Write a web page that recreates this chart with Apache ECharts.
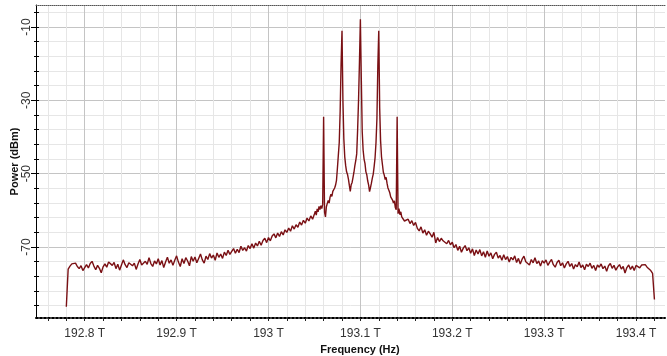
<!DOCTYPE html>
<html>
<head>
<meta charset="utf-8">
<script src="https://cdn.jsdelivr.net/npm/echarts@6/dist/echarts.min.js"></script>
<style>
  html, body { margin: 0; padding: 0; background: #fff; }
  #chart { width: 667px; height: 356px; }
</style>
</head>
<body>
<div id="chart"></div>
<script>
// Optical spectrum of five comb lines around 193.1 THz (frequency in THz, power in dBm).

const freqMin = 192.747;
const freqMax = 193.4315;
const powerMin = -89.35;
const powerMax = -4;

const freqLabelTicks = [192.8, 192.9, 193, 193.1, 193.2, 193.3, 193.4];
const freqMinorTicks = [192.76, 192.78, 192.8, 192.82, 192.84, 192.86, 192.88, 192.9, 192.92, 192.94,
  192.96, 192.98, 193, 193.02, 193.04, 193.06, 193.08, 193.1, 193.12, 193.14, 193.16, 193.18,
  193.2, 193.22, 193.24, 193.26, 193.28, 193.3, 193.32, 193.34, 193.36, 193.38, 193.4, 193.42];
const powerLabelTicks = [-10, -30, -50, -70];
const powerMinorTicks = [-6, -10, -14, -18, -22, -26, -30, -34, -38, -42, -46, -50, -54, -58,
  -62, -66, -70, -74, -78, -82, -86];

// left wing: 192.780 .. 193.048 THz, 2 GHz apart
const leftStart = 192.78;
const wingStep = 0.002;
const leftWingDbm = [
  -86.3, -76.0, -75.2, -74.6, -75.0, -74.4, -75.3, -75.9, -75.1, -76.4,
  -75.6, -74.8, -75.7, -74.5, -73.9, -75.2, -76.2, -75.0, -75.8, -77.0,
  -75.4, -74.6, -75.5, -74.1, -73.6, -75.0, -74.2, -75.9, -74.7, -76.3,
  -74.9, -73.5, -74.8, -75.6, -74.3, -73.8, -75.1, -74.4, -76.1, -74.6,
  -73.4, -74.9, -75.4, -73.9, -74.7, -72.9, -74.5, -75.3, -73.8, -74.6,
  -73.2, -74.9, -73.7, -75.6, -74.1, -72.8, -74.4, -73.5, -75.0, -73.6,
  -72.4, -74.1, -75.3, -73.2, -74.5, -72.9, -73.8, -75.1, -72.6, -73.9,
  -72.7, -74.3, -73.1, -71.9, -73.5, -74.4, -72.5, -73.4, -71.8, -73.0,
  -72.2, -73.6, -71.6, -72.8, -71.9, -73.1, -71.4, -72.3, -70.9, -72.0,
  -71.2, -70.4, -71.7, -70.6, -71.5, -69.8, -70.9, -70.2, -71.1, -69.6,
  -70.4, -69.1, -70.3, -68.9, -69.7, -68.4, -69.5, -68.2, -67.6, -68.8,
  -67.4, -68.3, -67.0, -66.4, -67.5, -66.2, -67.1, -65.8, -66.7, -65.3,
  -66.0, -64.8, -65.7, -64.2, -65.1, -63.9, -64.6, -63.2, -64.0, -62.7,
  -63.5, -62.1, -62.9, -61.5, -62.4
];

// centre: 193.050 .. 193.150 THz, 1 GHz apart
const centreStart = 193.05;
const centreStep = 0.001;
const centreDbm = [
  -61.0, -60.2, -61.3, -59.6, -60.4, -58.9, -59.8, -58.7, -59.5, -58.3,
  -34.5, -60.5, -61.8, -59.0, -58.1, -57.3, -58.0, -56.4, -55.6, -56.2,
  -54.8, -55.3, -53.9, -53.1, -51.8, -48.5, -45.0, -41.5, -33.0, -20.0,
  -11.0, -30.0, -40.5, -45.4, -47.8, -49.5, -50.2, -51.5, -53.2, -54.8,
  -53.0, -52.4, -51.0, -49.6, -47.8, -46.4, -44.6, -38.0, -30.0, -19.5,
  -7.9, -24.0, -38.5, -43.6, -46.0, -47.2, -49.5, -50.3, -52.0, -53.1,
  -54.9, -53.8, -52.6, -51.2, -50.1, -48.0, -45.6, -41.5, -35.0, -20.5,
  -11.0, -32.0, -41.0, -45.4, -47.5, -49.6, -50.4, -51.6, -51.0, -52.6,
  -53.9, -54.5, -55.2, -56.3, -55.8, -57.2, -58.0, -57.4, -59.2, -59.8,
  -34.5, -60.9, -59.5, -61.2, -60.4, -61.8, -62.3, -61.5, -62.9, -63.4,
  -62.7
];

// right wing: 193.152 .. 193.420 THz, 2 GHz apart
const rightStart = 193.152;
const rightWingDbm = [
  -62.4, -63.6, -62.8, -64.1, -63.3, -64.9, -65.6, -64.5, -66.2, -65.3,
  -66.8, -65.7, -66.4, -67.3, -66.0, -68.9, -67.4, -68.5, -67.6, -68.3,
  -67.8, -69.1, -68.2, -69.4, -68.7, -70.2, -69.3, -70.9, -69.8, -71.4,
  -70.3, -69.6, -71.0, -70.2, -71.7, -70.5, -72.3, -70.8, -71.9, -70.7,
  -72.4, -71.3, -72.8, -71.1, -72.5, -71.6, -73.2, -72.0, -71.4, -73.0,
  -72.3, -73.6, -72.1, -73.4, -72.6, -74.1, -72.8, -73.5, -72.4, -74.2,
  -73.1, -74.6, -73.3, -72.5, -74.0, -73.6, -74.9, -73.4, -74.3, -72.9,
  -74.5, -73.8, -75.2, -73.7, -74.4, -73.5, -75.0, -74.1, -73.4, -74.8,
  -75.5, -74.2, -73.6, -75.1, -74.3, -75.7, -74.6, -73.9, -75.3, -74.5,
  -76.0, -74.8, -75.4, -74.1, -75.6, -74.9, -76.2, -74.7, -75.3, -74.4,
  -75.8, -75.0, -76.4, -74.9, -75.5, -74.6, -75.9, -75.2, -76.6, -75.1,
  -74.5, -75.8, -75.0, -76.3, -75.4, -74.8, -76.0, -75.3, -77.1, -75.6,
  -74.9, -76.1, -75.2, -76.4, -75.0, -74.6, -75.7, -74.9, -75.4, -74.8,
  -75.5, -76.0, -76.4, -77.2, -84.3
];

function toPoints(start, step, values) {
  return values.map((v, i) => [+(start + step * i).toFixed(4), v]);
}

const spectrum = []
  .concat(toPoints(leftStart, wingStep, leftWingDbm))
  .concat(toPoints(centreStart, centreStep, centreDbm))
  .concat(toPoints(rightStart, wingStep, rightWingDbm));

const FONT = "'Liberation Sans', Arial, sans-serif";
const MAJOR_GRID = "#c4c4c4";
const MINOR_GRID = "#e6e6e6";
const PLOT = { left: 36, right: 2, top: 5, bottom: 38, containLabel: false, outerBoundsMode: "none" };

const chart = echarts.init(document.getElementById("chart"), null, { renderer: "canvas" });

// three stacked grids with the same rectangle: data + minor grid, major grid, decorations
const hidden = {
  axisLine: { show: false },
  axisTick: { show: false },
  axisLabel: { show: false },
  splitLine: { show: false }
};

chart.setOption({
  animation: false,
  backgroundColor: "#ffffff",
  grid: [Object.assign({}, PLOT), Object.assign({}, PLOT), Object.assign({}, PLOT)],
  xAxis: [
    {
      gridIndex: 0,
      type: "value",
      position: "bottom",
      min: freqMin,
      max: freqMax,
      name: "Frequency (Hz)",
      nameLocation: "middle",
      nameGap: 22,
      nameTextStyle: {
        color: "#111",
        fontFamily: FONT,
        fontSize: 11,
        fontWeight: "bold",
        padding: [0, 0, 0, 19]
      },
      axisLine: {
        show: true,
        lineStyle: { color: "#000", width: 2, type: "dotted" }
      },
      axisTick: {
        show: true,
        customValues: freqMinorTicks,
        inside: false,
        length: 3,
        lineStyle: { color: "#222" }
      },
      axisLabel: {
        customValues: freqLabelTicks,
        margin: 10,
        color: "#333",
        fontFamily: FONT,
        fontSize: 12,
        formatter: (v) => v + " T"
      },
      splitLine: {
        show: true,
        lineStyle: { color: MINOR_GRID, width: 1 }
      }
    },
    Object.assign({}, hidden, {
      gridIndex: 1,
      type: "value",
      position: "bottom",
      min: freqMin,
      max: freqMax,
      axisTick: { show: false, customValues: freqLabelTicks },
      splitLine: {
        show: true,
        lineStyle: { color: MAJOR_GRID, width: 1 }
      }
    }),
    Object.assign({}, hidden, {
      gridIndex: 2,
      type: "value",
      position: "top",
      min: freqMin,
      max: freqMax,
      axisLine: {
        show: true,
        lineStyle: { color: "#555", width: 1, type: "dotted" }
      }
    })
  ],
  yAxis: [
    {
      gridIndex: 0,
      type: "value",
      position: "left",
      min: powerMin,
      max: powerMax,
      name: "Power (dBm)",
      nameLocation: "middle",
      nameGap: 16,
      nameMoveOverlap: false,
      nameTextStyle: {
        color: "#111",
        fontFamily: FONT,
        fontSize: 11,
        fontWeight: "bold"
      },
      axisLine: {
        show: true,
        lineStyle: { color: "#000", width: 1 }
      },
      axisTick: {
        show: true,
        customValues: powerMinorTicks,
        inside: false,
        length: 2,
        lineStyle: { color: "#000" }
      },
      axisLabel: {
        customValues: powerLabelTicks,
        rotate: 90,
        margin: 3,
        color: "#333",
        fontFamily: FONT,
        fontSize: 12
      },
      splitLine: {
        show: true,
        lineStyle: { color: MINOR_GRID, width: 1 }
      }
    },
    Object.assign({}, hidden, {
      gridIndex: 1,
      type: "value",
      position: "left",
      min: powerMin,
      max: powerMax,
      axisTick: {
        show: true,
        customValues: powerLabelTicks,
        inside: false,
        length: 5,
        lineStyle: { color: "#000" }
      },
      splitLine: {
        show: true,
        lineStyle: { color: MAJOR_GRID, width: 1 }
      }
    }),
    Object.assign({}, hidden, {
      gridIndex: 2,
      type: "value",
      position: "left",
      min: powerMin,
      max: powerMax,
      axisTick: {
        show: true,
        customValues: powerMinorTicks,
        inside: true,
        length: 3,
        lineStyle: { color: "#000" }
      }
    })
  ],
  series: [
    {
      type: "line",
      name: "Power",
      data: spectrum,
      xAxisIndex: 0,
      yAxisIndex: 0,
      showSymbol: false,
      sampling: "none",
      lineStyle: { color: "#7a1014", width: 1.4 },
      z: 5
    }
  ]
});
</script>
</body>
</html>
